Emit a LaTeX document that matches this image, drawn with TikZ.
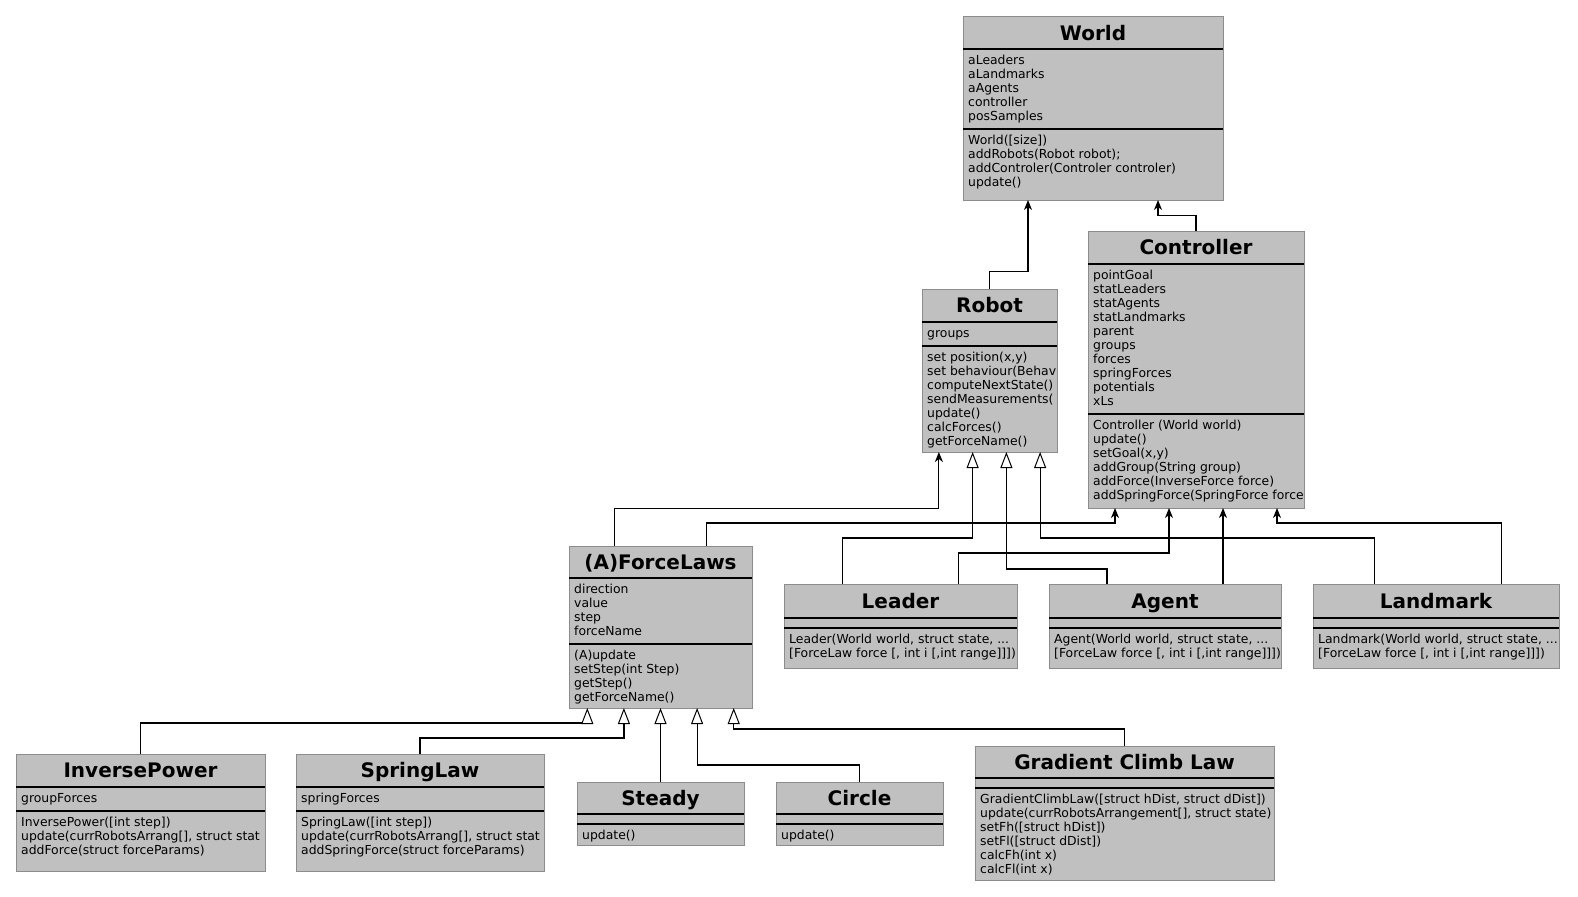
\documentclass[tikz,border=0pt]{standalone}
\usepackage{fontspec}
\setmainfont{DejaVu Sans}
\usetikzlibrary{arrows.meta,calc}
\definecolor{boxfill}{HTML}{C0C0C0}
\definecolor{boxline}{HTML}{8C8C8C}
\newcommand{\mystrut}{\rule[-3.5pt]{0pt}{14pt}}
\tikzset{
  umlrect/.style={draw=boxline, fill=boxfill, line width=1pt, inner sep=0pt, outer sep=0pt},
  sepline/.style={draw=black, line width=1.2pt},
  umltitle/.style={anchor=base, inner sep=0pt, font=\fontsize{20}{24}\selectfont\bfseries},
  umltxt/.style={anchor=north west, align=left, inner sep=0pt, font=\fontsize{12.4}{14}\selectfont},
  assoc/.style={draw=black, line width=1.2pt, -{Stealth[length=10pt,width=8pt,inset=3pt]}},
  inherit/.style={draw=black, line width=1.2pt, -{Triangle[open,length=16pt,width=12pt,fill=white,line width=1pt]}}
}
\newcommand{\umlbox}[8]{%
  \node[umlrect, anchor=north west, minimum width={(#4-#2)*1pt}, minimum height={(#5-#3)*1pt}] (#1) at (#2,#3) {};
  \draw[sepline] (#1.west |- 0,#6) -- (#1.east |- 0,#6);
  \draw[sepline] (#1.west |- 0,#7) -- (#1.east |- 0,#7);
  \node[umltitle] (#1-title) at ({(#2+#4)/2},{(#3+#6)/2+7.3}) {#8};
}
\newcommand{\umltext}[7]{%
  \begin{scope}
  \clip (#2,#3) rectangle (#4-0.6,#5);
  \node[umltxt] (#1) at (#2+5,#6+5) {\mystrut #7};
  \end{scope}
}
\begin{document}
\begin{tikzpicture}[x=1pt,y=-1pt]
\fill[white] (0,0) rectangle (1578,896);
\useasboundingbox (0,0) rectangle (1578,896);

% World
\umlbox{world}{963}{17}{1223}{200}{49}{129}{World}
\umltext{world-a}{963}{17}{1223}{200}{49}{aLeaders\\aLandmarks\\aAgents\\controller\\posSamples}
\umltext{world-m}{963}{17}{1223}{200}{129}{World([size])\\addRobots(Robot robot);\\addControler(Controler controler)\\update()}

% Controller
\umlbox{controller}{1088}{231}{1304}{508}{264}{414}{Controller}
\umltext{controller-a}{1088}{231}{1304}{508}{264}{pointGoal\\statLeaders\\statAgents\\statLandmarks\\parent\\groups\\forces\\springForces\\potentials\\xLs}
\umltext{controller-m}{1088}{231}{1304}{508}{414}{Controller (World world)\\update()\\setGoal(x,y)\\addGroup(String group)\\addForce(InverseForce force)\\addSpringForce(SpringForce force}

% Robot
\umlbox{robot}{922}{289}{1057}{452}{322}{346}{Robot}
\umltext{robot-a}{922}{289}{1057}{452}{322}{groups}
\umltext{robot-m}{922}{289}{1057}{452}{346}{set position(x,y)\\set behaviour(Behav\\computeNextState()\\sendMeasurements(\\update()\\calcForces()\\getForceName()}

% ForceLaws
\umlbox{forcelaws}{569}{546}{752}{708}{578}{644}{(A)ForceLaws}
\umltext{forcelaws-a}{569}{546}{752}{708}{578}{direction\\value\\step\\forceName}
\umltext{forcelaws-m}{569}{546}{752}{708}{644}{(A)update\\setStep(int Step)\\getStep()\\getForceName()}

% Leader, Agent, Landmark
\umlbox{leader}{784}{584}{1017}{668}{618}{628}{Leader}
\umltext{leader-m}{784}{584}{1017}{668}{628}{Leader(World world, struct state, ...\\{}[ForceLaw force [, int i [,int range]]])}
\umlbox{agent}{1049}{584}{1281}{668}{618}{628}{Agent}
\umltext{agent-m}{1049}{584}{1281}{668}{628}{Agent(World world, struct state, ...\\{}[ForceLaw force [, int i [,int range]]])}
\umlbox{landmark}{1313}{584}{1559}{668}{618}{628}{Landmark}
\umltext{landmark-m}{1313}{584}{1559}{668}{628}{Landmark(World world, struct state, ...\\{}[ForceLaw force [, int i [,int range]]])}

% Bottom row
\umlbox{inversepower}{16}{754}{265}{871}{787}{811}{InversePower}
\umltext{inversepower-a}{16}{754}{265}{871}{787}{groupForces}
\umltext{inversepower-m}{16}{754}{265}{871}{811}{InversePower([int step])\\update(currRobotsArrang[], struct stat\\addForce(struct forceParams)}
\umlbox{springlaw}{296}{754}{544}{871}{787}{811}{SpringLaw}
\umltext{springlaw-a}{296}{754}{544}{871}{787}{springForces}
\umltext{springlaw-m}{296}{754}{544}{871}{811}{SpringLaw([int step])\\update(currRobotsArrang[], struct stat\\addSpringForce(struct forceParams)}
\umlbox{steady}{577}{782}{744}{845}{814}{824}{Steady}
\umltext{steady-m}{577}{782}{744}{845}{824}{update()}
\umlbox{circle}{776}{782}{943}{845}{814}{824}{Circle}
\umltext{circle-m}{776}{782}{943}{845}{824}{update()}
\umlbox{gradient}{975}{746}{1274}{880}{778}{788}{Gradient Climb Law}
\umltext{gradient-m}{975}{746}{1274}{880}{788}{GradientClimbLaw([struct hDist, struct dDist])\\update(currRobotsArrangement[], struct state)\\setFh([struct hDist])\\setFl([struct dDist])\\calcFh(int x)\\calcFl(int x)}

% Connectors
\draw[assoc] (robot.north) -- ++(0,-17.3) -| ($(world.south west)!0.25!(world.south east)$);
\draw[assoc] (controller.north) -- ++(0,-15.3) -| ($(world.south west)!0.75!(world.south east)$);
\draw[assoc] ($(forcelaws.north west)!0.25!(forcelaws.north east)$) -- ++(0,-37.7) -| ($(robot.south west)!0.125!(robot.south east)$);
\draw[assoc] ($(forcelaws.north west)!0.75!(forcelaws.north east)$) -- ++(0,-23) -| ($(controller.south west)!0.125!(controller.south east)$);
\draw[inherit] ($(leader.north west)!0.25!(leader.north east)$) -- ++(0,-46) -| ($(robot.south west)!0.375!(robot.south east)$);
\draw[assoc] ($(leader.north west)!0.75!(leader.north east)$) -- ++(0,-31) -| ($(controller.south west)!0.375!(controller.south east)$);
\draw[inherit] ($(agent.north west)!0.25!(agent.north east)$) -- ++(0,-15) -| ($(robot.south west)!0.625!(robot.south east)$);
\coordinate (agentr) at ($(agent.north west)!0.75!(agent.north east)$);
\draw[assoc] (agentr) -- (agentr |- controller.south);
\draw[inherit] ($(landmark.north west)!0.25!(landmark.north east)$) -- ++(0,-46) -| ($(robot.south west)!0.875!(robot.south east)$);
\draw[assoc] ($(landmark.north west)!0.765!(landmark.north east)$) -- ++(0,-61) -| ($(controller.south west)!0.875!(controller.south east)$);
\draw[inherit] (inversepower.north) -- ++(0,-31) -| ($(forcelaws.south west)!0.1!(forcelaws.south east)$);
\draw[inherit] (springlaw.north) -- ++(0,-16) -| ($(forcelaws.south west)!0.3!(forcelaws.south east)$);
\draw[inherit] (steady.north) -- (steady.north |- forcelaws.south);
\draw[inherit] (circle.north) -- ++(0,-17) -| ($(forcelaws.south west)!0.7!(forcelaws.south east)$);
\draw[inherit] (gradient.north) -- ++(0,-17) -| ($(forcelaws.south west)!0.9!(forcelaws.south east)$);
\end{tikzpicture}
\end{document}
